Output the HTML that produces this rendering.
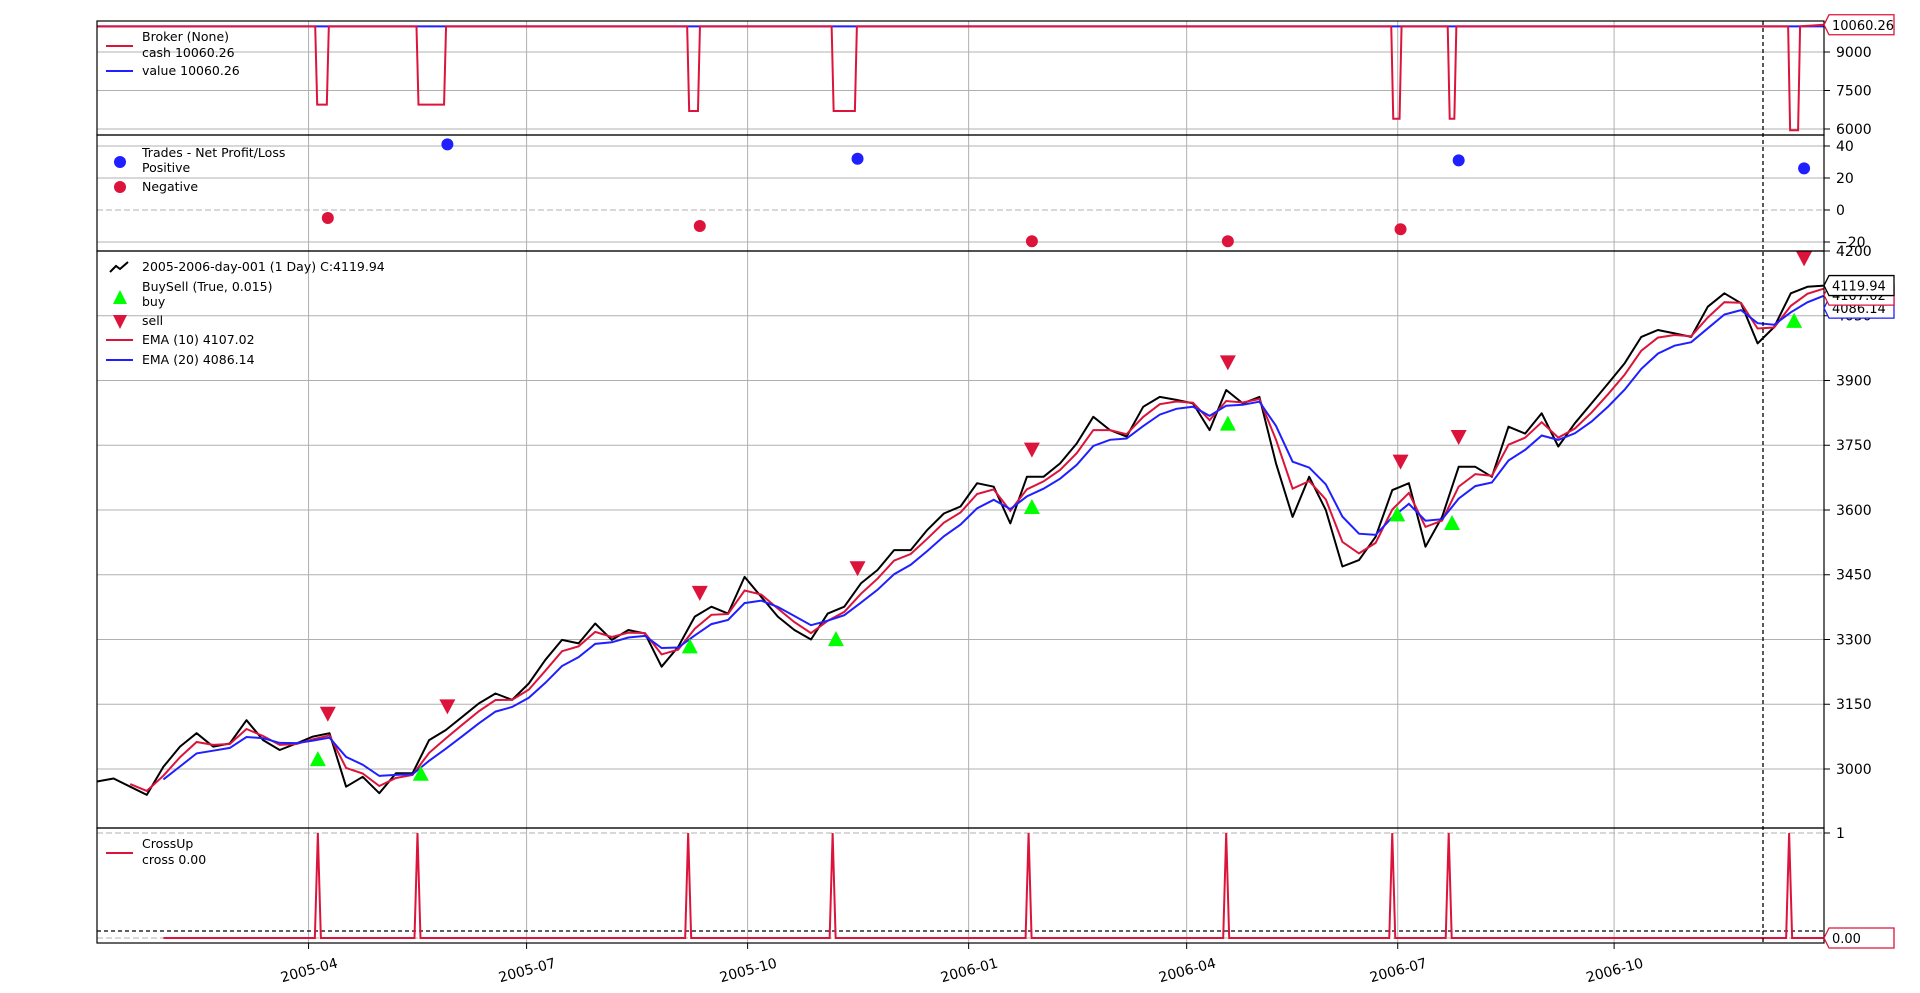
<!DOCTYPE html>
<html><head><meta charset="utf-8">
<style>
html,body{margin:0;padding:0;background:#fff;}
svg{display:block;font-family:"DejaVu Sans","Liberation Sans",sans-serif;}
</style></head>
<body>
<svg id="chart" width="1920" height="993" viewBox="0 0 1920 993" xmlns="http://www.w3.org/2000/svg">
<g id="grid"></g>
<g id="series"></g>
<g id="frames"></g>
<g id="labels"></g>
</svg>
<script>
// ---- data ----
const closes = [2971,2978,2959,2940,3005,3052,3083,3052,3059,3113,3067,3044,3059,3075,3083,2959,2982,2944,2990,2990,3067,3090,3121,3152,3175,3160,3198,3253,3299,3291,3337,3299,3322,3314,3237,3283,3353,3376,3360,3445,3399,3353,3322,3300,3360,3376,3430,3461,3507,3507,3554,3592,3608,3662,3654,3569,3677,3677,3708,3754,3816,3785,3770,3839,3862,3855,3847,3785,3878,3847,3862,3708,3584,3677,3600,3469,3484,3538,3646,3662,3515,3584,3700,3700,3677,3793,3777,3824,3747,3801,3847,3893,3940,4001,4017,4009,4001,4071,4102,4079,3986,4024,4102,4117,4119.94];
const buyWeek = [13.3,19.5,35.7,44.5,56.3,68.1,78.3,81.6,102.2];
const buyPrice = [3023,2989,3284,3301,3607,3800,3590,3570,4038];
const sellWeek = [13.9,21.1,36.3,45.8,56.3,68.1,78.5,82.0,102.8];
const sellPrice = [3128,3145,3408,3465,3740,3942,3712,3769,4183];
const winWeek = [21.1,45.8,82.0,102.8];
const winPnl = [41,32,31,26];
const lossWeek = [13.9,36.3,56.3,68.1,78.5];
const lossPnl = [-5,-10,-19.5,-19.5,-12];
const dipStart = [13.2,19.3,35.6,44.3,78.0,81.4,101.9];
const dipEnd = [13.9,20.96,36.25,45.7,78.5,81.8,102.5];
const dipLevel = [6950,6950,6700,6700,6400,6400,5950];
const cashBase = 10000, cashFinal = 10060.26;
const crossWeek = [13.3,19.3,35.6,44.3,56.1,68.0,78.0,81.4,101.9];
const monthLabels = ["2005-04","2005-07","2005-10","2006-01","2006-04","2006-07","2006-10"];
const monthWeek = [12.74,25.87,39.18,52.49,65.62,78.33,91.36];
const brokerTicks = [9000,7500,6000];
const tradeTicks = [40,20,0,-20];
const priceTicks = [4200,4050,3900,3750,3600,3450,3300,3150,3000];

// ---- scales ----
const L=97,R=1824,NW=104;
const X = w => L + w*(R-L)/NW;
const yBroker = v => 52 - (v-9000)*0.02567;
const yTrade = v => 210 - v*1.6;
const yPrice = v => 769 - (v-3000)*0.43167;
const yCross = v => 938 - v*105;
const NS="http://www.w3.org/2000/svg";
function mk(parent,tag,attrs){const e=document.createElementNS(NS,tag);for(const k in attrs)e.setAttribute(k,attrs[k]);document.getElementById(parent).appendChild(e);return e;}

// grid verticals
monthWeek.forEach((w,i)=>{
  const g=mk('grid','line',{x1:X(w),x2:X(w),y1:21,y2:943,stroke:'#b0b0b0','stroke-width':1});
  
  
  const t=mk('grid','line',{x1:X(w),x2:X(w),y1:943,y2:949,stroke:'#000','stroke-width':1});
  
  
  const lb=mk('labels','text',{x:X(w),y:975,'font-size':14,'text-anchor':'middle',transform:`rotate(-15 ${X(w)} 968)`});
  lb.textContent=monthLabels[i];
  
  
});
function hgrid(y,label,dash){
  const g=mk('grid','line',{x1:L,x2:R,y1:y,y2:y,stroke:'#b0b0b0','stroke-width':1});
  if(dash)g.setAttribute('stroke-dasharray','6,3');
  
  
  if(label!==null){
    const t=mk('grid','line',{x1:R,x2:R+6,y1:y,y2:y,stroke:'#000'});
    
    
    const tx=mk('labels','text',{x:R+12,y:y+5,'font-size':14});
    tx.textContent=label;
    
    
  }
}
brokerTicks.forEach(v=>hgrid(yBroker(v),String(v)));
tradeTicks.forEach(v=>hgrid(yTrade(v),v<0?'\u2212'+(-v):String(v),v===0));
priceTicks.forEach(v=>hgrid(yPrice(v),String(v)));
hgrid(yCross(1),'1',true);
hgrid(yCross(0),null,true);

// broker
const baseY=yBroker(cashBase);
const vl=mk('series','line',{x1:L,x2:R,y1:baseY,y2:baseY,stroke:'#1f1fff','stroke-width':2});


let cp=`M${L},${baseY}`;
dipStart.forEach((s,i)=>{
  const ly=yBroker(dipLevel[i]);
  cp+=` L${X(s)-1},${baseY} L${X(s)+1},${ly} L${X(dipEnd[i])-1},${ly} L${X(dipEnd[i])+1},${baseY}`;
});
cp+=` L${R},${yBroker(cashFinal)}`;
const cl=mk('series','path',{d:cp,fill:'none',stroke:'#dc143c','stroke-width':2});



// trades
winWeek.forEach((w,i)=>{
  const c=mk('series','circle',{cx:X(w),cy:yTrade(winPnl[i]),r:6,fill:'#1f1fff'});
  
  
});
lossWeek.forEach((w,i)=>{
  const c=mk('series','circle',{cx:X(w),cy:yTrade(lossPnl[i]),r:6,fill:'#dc143c'});
  
  
});

// price + EMAs
function ema(a,al,start){const o=[];let e=null;a.forEach((v,i)=>{e=e===null?v:al*v+(1-al)*e;o.push(i>=start?e:null);});return o;}
function pathOf(arr){let d='';arr.forEach((v,i)=>{if(v===null)return;d+=(d?' L':'M')+X(i).toFixed(1)+','+yPrice(v).toFixed(1);});return d;}
const e10=ema(closes,0.633,2), e20=ema(closes,0.393,4);
const p1=mk('series','path',{d:pathOf(closes),fill:'none',stroke:'#000','stroke-width':2,'stroke-linejoin':'round'});


const p2=mk('series','path',{d:pathOf(e10),fill:'none',stroke:'#dc143c','stroke-width':2});


const p3=mk('series','path',{d:pathOf(e20),fill:'none',stroke:'#1f1fff','stroke-width':2});


buyWeek.forEach((w,i)=>{
  const x=X(w),y=yPrice(buyPrice[i]);
  const t=mk('series','polygon',{points:`${x-8},${y+7} ${x+8},${y+7} ${x},${y-8}`,fill:'#00ff00'});
  
  
});
sellWeek.forEach((w,i)=>{
  const x=X(w),y=yPrice(sellPrice[i]);
  const t=mk('series','polygon',{points:`${x-8},${y-7} ${x+8},${y-7} ${x},${y+8}`,fill:'#dc143c'});
  
  
});

// crossup
const dl=mk('series','line',{x1:L,x2:R,y1:931,y2:931,stroke:'#000','stroke-width':1.3,'stroke-dasharray':'4,3'});


let cd=`M${X(4)},${yCross(0)}`;
crossWeek.forEach(w=>{cd+=` L${X(w)-3},${yCross(0)} L${X(w)},${yCross(1)} L${X(w)+3},${yCross(0)}`;});
cd+=` L${R},${yCross(0)}`;
const cu=mk('series','path',{d:cd,fill:'none',stroke:'#dc143c','stroke-width':2});


const vd=mk('series','line',{x1:1763,x2:1763,y1:21,y2:943,stroke:'#000','stroke-width':1.3,'stroke-dasharray':'4,3'});



// frames
[[21,135],[135,251],[251,828],[828,943]].forEach(([a,b])=>{
  const r=mk('frames','rect',{x:L,y:a,width:R-L,height:b-a,fill:'none',stroke:'#000','stroke-width':1.2});
  
  
});

// value boxes
function vbox(y,txt,col,name){
  const g=mk('labels','g',{});
  
  
  const p=document.createElementNS(NS,'path');
  p.setAttribute('d',`M${R},${y} L${R+5},${y-10} L${R+70},${y-10} L${R+70},${y+10} L${R+5},${y+10} Z`);
  p.setAttribute('fill','#fff');p.setAttribute('stroke',col);p.setAttribute('stroke-width',1.3);
  g.appendChild(p);
  const t=document.createElementNS(NS,'text');
  t.setAttribute('x',R+8);t.setAttribute('y',y+5);t.setAttribute('font-size',13);t.textContent=txt;
  g.appendChild(t);
}
vbox(yPrice(4086.14)+8,'4086.14','#1f1fff','ema20-value-box');
vbox(yPrice(4107.02)+4,'4107.02','#dc143c','ema10-value-box');
vbox(yPrice(4119.94),'4119.94','#000','close-value-box');
vbox(yBroker(cashFinal),'10060.26','#dc143c','cash-value-box');
vbox(yCross(0),'0.00','#dc143c','crossup-value-box');
</script>
<svg width="0" height="0"></svg>
<div style="position:absolute;left:0;top:0;width:1920px;height:993px;pointer-events:none;font-family:'DejaVu Sans','Liberation Sans',sans-serif;font-size:12.5px;color:#000;">
  <div>
    <div style="position:absolute;left:106px;top:45px;width:27px;height:2px;background:#dc143c"></div>
    <div style="position:absolute;left:142px;top:29px;line-height:16px">Broker (None)<br>cash 10060.26</div>
    <div style="position:absolute;left:106px;top:70px;width:27px;height:2px;background:#1f1fff"></div>
    <div style="position:absolute;left:142px;top:63px;line-height:16px">value 10060.26</div>
  </div>
  <div>
    <div style="position:absolute;left:114px;top:156px;width:12px;height:12px;border-radius:50%;background:#1f1fff"></div>
    <div style="position:absolute;left:142px;top:145px;line-height:15px">Trades - Net Profit/Loss<br>Positive</div>
    <div style="position:absolute;left:114px;top:181px;width:12px;height:12px;border-radius:50%;background:#dc143c"></div>
    <div style="position:absolute;left:142px;top:179px">Negative</div>
  </div>
  <div>
    <svg style="position:absolute;left:108px;top:259px" width="24" height="16"><polyline points="2,13 8,7 12,10 20,3" fill="none" stroke="#000" stroke-width="2"/></svg>
    <div style="position:absolute;left:142px;top:259px">2005-2006-day-001 (1 Day) C:4119.94</div>
    <div style="position:absolute;left:142px;top:279px;line-height:15px">BuySell (True, 0.015)<br>buy</div>
    <svg style="position:absolute;left:112px;top:289px" width="16" height="16"><polygon points="1,15 15,15 8,1" fill="#00ff00"/></svg>
    <svg style="position:absolute;left:112px;top:314px" width="16" height="16"><polygon points="1,1 15,1 8,15" fill="#dc143c"/></svg>
    <div style="position:absolute;left:142px;top:313px">sell</div>
    <div style="position:absolute;left:106px;top:339px;width:27px;height:2px;background:#dc143c"></div>
    <div style="position:absolute;left:142px;top:332px">EMA (10) 4107.02</div>
    <div style="position:absolute;left:106px;top:359px;width:27px;height:2px;background:#1f1fff"></div>
    <div style="position:absolute;left:142px;top:352px">EMA (20) 4086.14</div>
  </div>
  <div>
    <div style="position:absolute;left:106px;top:852px;width:27px;height:2px;background:#dc143c"></div>
    <div style="position:absolute;left:142px;top:836px;line-height:16px">CrossUp<br>cross 0.00</div>
  </div>
</div>
</body></html>
